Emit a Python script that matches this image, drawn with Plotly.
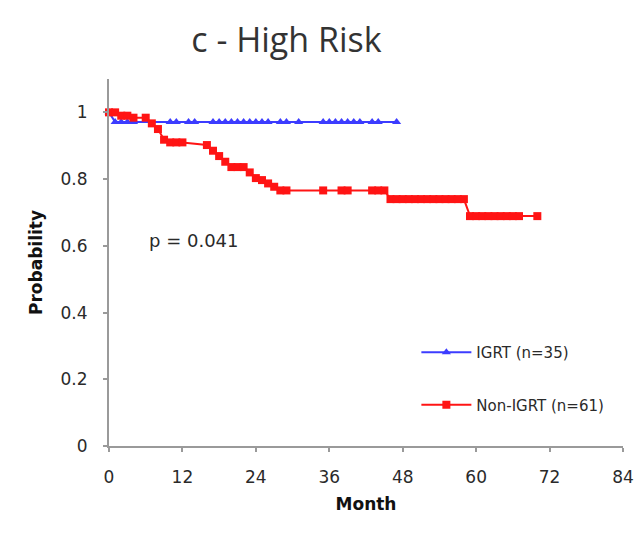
import plotly.graph_objects as go

# Kaplan-Meier style survival estimates (month, probability)
igrt_month = [0, 1, 2, 3, 4, 10, 11, 13, 14, 17, 18, 19, 20, 21, 22, 23, 24,
              25, 26, 28, 29, 31, 35, 36, 37, 38, 39, 40, 41, 43, 44, 47]
igrt_prob = [1.0] + [0.971] * 31

non_igrt_month = [0, 1, 2, 3, 4, 6, 7, 8, 9, 10, 11, 12, 16, 17, 18, 19, 20,
                  21, 22, 23, 24, 25, 26, 27, 28, 29, 35, 38, 39, 43, 44, 45,
                  46, 47, 48, 49, 50, 51, 52, 53, 54, 55, 56, 57, 58,
                  59, 60, 61, 62, 63, 64, 65, 66, 67, 70]
non_igrt_prob = [1.0, 1.0, 0.99, 0.99, 0.984, 0.984, 0.967, 0.95, 0.918, 0.91,
                 0.91, 0.91, 0.902, 0.885, 0.869, 0.852, 0.836, 0.836, 0.836,
                 0.82, 0.803, 0.797, 0.787, 0.777, 0.766, 0.766, 0.766, 0.766,
                 0.766, 0.766, 0.766, 0.766,
                 0.74, 0.74, 0.74, 0.74, 0.74, 0.74, 0.74, 0.74, 0.74, 0.74,
                 0.74, 0.74, 0.74,
                 0.689, 0.689, 0.689, 0.689, 0.689, 0.689, 0.689, 0.689,
                 0.689, 0.689]

igrt_name = "IGRT (n=35)"
non_igrt_name = "Non-IGRT (n=61)"
p_value_text = "p = 0.041"
title_text = "c - High Risk"
x_ticks = [0, 12, 24, 36, 48, 60, 72, 84]
y_ticks = [0, 0.2, 0.4, 0.6, 0.8, 1.0]

BLUE = "#3c3cff"
RED = "#ff1414"
AXIS = "#9a9a9a"
TEXT = "#2a2a2a"

fig = go.Figure()
fig.add_trace(go.Scatter(
    x=igrt_month, y=igrt_prob, name=igrt_name, mode="lines+markers",
    line=dict(color=BLUE, width=2),
    marker=dict(symbol="triangle-up", size=8, color=BLUE),
    legendgroup="a", cliponaxis=False,
))
fig.add_trace(go.Scatter(
    x=non_igrt_month, y=non_igrt_prob, name=non_igrt_name, mode="lines+markers",
    line=dict(color=RED, width=2),
    marker=dict(symbol="square", size=8, color=RED),
    legendgroup="b", cliponaxis=False,
))

fig.add_annotation(
    x=6.2, y=0.617, xref="x", yref="y", text=p_value_text, showarrow=False,
    xanchor="left", yanchor="middle",
    font=dict(family="DejaVu Sans", size=18, color=TEXT),
)

fig.update_layout(
    width=638, height=534,
    margin=dict(l=109, r=15, t=79, b=88, autoexpand=False),
    paper_bgcolor="white", plot_bgcolor="white",
    title=dict(text=title_text, x=0.449, xanchor="center", xref="container",
               y=0.925, yanchor="middle", yref="container",
               font=dict(family="Open Sans", size=34, color="#333333")),
    showlegend=True,
    legend=dict(x=0.598, y=0.3, xanchor="left", yanchor="top",
                bgcolor="rgba(0,0,0,0)", tracegroupgap=30, itemwidth=50,
                font=dict(family="DejaVu Sans", size=15, color=TEXT)),
    xaxis=dict(
        range=[0, 84], tickvals=x_ticks, showgrid=False, zeroline=False,
        automargin=False,
        showline=True, linecolor=AXIS, linewidth=2,
        ticks="outside", ticklen=4, tickcolor=AXIS, tickwidth=1.5,
        ticklabelstandoff=11,
        tickfont=dict(family="DejaVu Sans", size=17, color=TEXT),
        title=dict(text="<b>Month</b>", standoff=12,
                   font=dict(family="DejaVu Sans", size=17, color="#111111")),
    ),
    yaxis=dict(
        range=[0, 1.1], tickvals=y_ticks, showgrid=False, zeroline=False,
        automargin=False,
        showline=True, linecolor=AXIS, linewidth=2,
        ticks="outside", ticklen=4, tickcolor=AXIS, tickwidth=1.5,
        ticklabelstandoff=12,
        tickfont=dict(family="DejaVu Sans", size=17, color=TEXT),
        title=dict(text="<b>Probability</b>", standoff=14,
                   font=dict(family="DejaVu Sans", size=17, color="#111111")),
    ),
)

fig.write_html("out.html")
